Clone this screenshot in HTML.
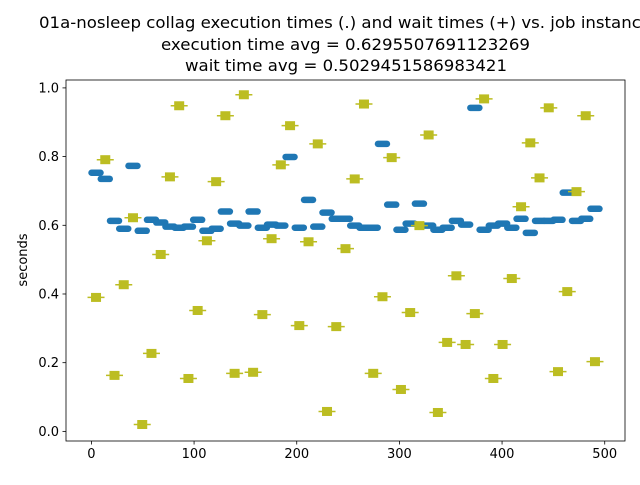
<!DOCTYPE html>
<html><head><meta charset="utf-8"><style>
body{margin:0;background:#fff;}
svg text{font-family:"DejaVu Sans","Liberation Sans",sans-serif;fill:#000;}
</style></head><body>
<svg id="chart" width="640" height="480" xmlns="http://www.w3.org/2000/svg">
<rect x="0" y="0" width="640" height="480" fill="#fff"/>
<g font-size="16">
<text x="39" y="28" textLength="612" lengthAdjust="spacingAndGlyphs">01a-nosleep collag execution times (.) and wait times (+) vs. job instance</text>
<text x="161" y="50" textLength="369" lengthAdjust="spacingAndGlyphs">execution time avg = 0.6295507691123269</text>
<text x="185" y="71" textLength="322" lengthAdjust="spacingAndGlyphs">wait time avg = 0.5029451586983421</text>
</g>
<g id="marks"></g>
<g id="axes"></g>
<text x="27" y="260" font-size="13" text-anchor="middle" transform="rotate(-90 27 260)">seconds</text>
</svg>
<script>
const execValues=[.753,.735,.613,.590,.773,.584,.616,.608,.596,.593,.596,.616,.584,.590,.640,.605,.599,.640,.593,.602,.599,.799,.593,.674,.596,.637,.619,.619,.599,.593,.593,.837,.660,.587,.605,.663,.599,.587,.593,.613,.602,.942,.587,.599,.605,.593,.619,.578,.613,.613,.616,.695,.613,.619,.648];
const waitValues=[.390,.791,.163,.427,.622,.020,.227,.515,.741,.948,.154,.352,.555,.727,.919,.169,.980,.172,.340,.561,.776,.890,.308,.552,.837,.058,.305,.532,.735,.953,.169,.392,.797,.122,.346,.599,.863,.055,.259,.453,.253,.343,.968,.154,.253,.445,.654,.840,.738,.942,.174,.407,.698,.919,.203];
const xTicks=[0,100,200,300,400,500];
const yTicks=[0.0,0.2,0.4,0.6,0.8,1.0];
const yTickLabels=["0.0","0.2","0.4","0.6","0.8","1.0"];
const GROUP=9;
const L=66,R=625,T=80,B=441;
const X0=-24.75,X1=519.75,Y0=-0.028,Y1=1.023;
function sx(v){return L+(v-X0)/(X1-X0)*(R-L);}
function sy(v){return B-(v-Y0)/(Y1-Y0)*(B-T);}
const NS='http://www.w3.org/2000/svg';
function mk(t,a){const e=document.createElementNS(NS,t);for(const k in a)e.setAttribute(k,a[k]);return e;}
const marks=document.getElementById('marks');
execValues.forEach((v,i)=>{
  const c=sx(i*GROUP+4.5),y=sy(v);
  const l=mk('line',{x1:c-4.5,x2:c+4.5,y1:y,y2:y,stroke:'#1f77b4','stroke-width':6.5,'stroke-linecap':'round'});
  
  
  marks.appendChild(l);
});
waitValues.forEach((v,i)=>{
  const c=sx(i*GROUP+4.5),y=sy(v);
  const g=mk('g',{});
  
  
  g.appendChild(mk('line',{x1:c-8.5,x2:c+8.5,y1:y,y2:y,stroke:'#bcbd22','stroke-width':1.5}));
  g.appendChild(mk('rect',{x:c-5,y:y-4.5,width:10,height:9,fill:'#bcbd22'}));
  marks.appendChild(g);
});
const axes=document.getElementById('axes');
const frame=mk('rect',{x:L,y:T,width:R-L,height:B-T,fill:'none',stroke:'#000','stroke-width':0.8});


axes.appendChild(frame);
xTicks.forEach(t=>{
  const x=sx(t);
  const tk=mk('line',{x1:x,x2:x,y1:B,y2:B+3.5,stroke:'#000','stroke-width':0.8});
  
  
  axes.appendChild(tk);
  const tx=mk('text',{x:x,y:B+17,'font-size':13,'text-anchor':'middle'});
  
  
  tx.textContent=t;axes.appendChild(tx);
});
yTicks.forEach((t,i)=>{
  const y=sy(t);
  const tk=mk('line',{x1:L-3.5,x2:L,y1:y,y2:y,stroke:'#000','stroke-width':0.8});
  
  
  axes.appendChild(tk);
  const tx=mk('text',{x:L-7,y:y+4.5,'font-size':13,'text-anchor':'end'});
  
  
  tx.textContent=yTickLabels[i];axes.appendChild(tx);
});
</script>
</body></html>
